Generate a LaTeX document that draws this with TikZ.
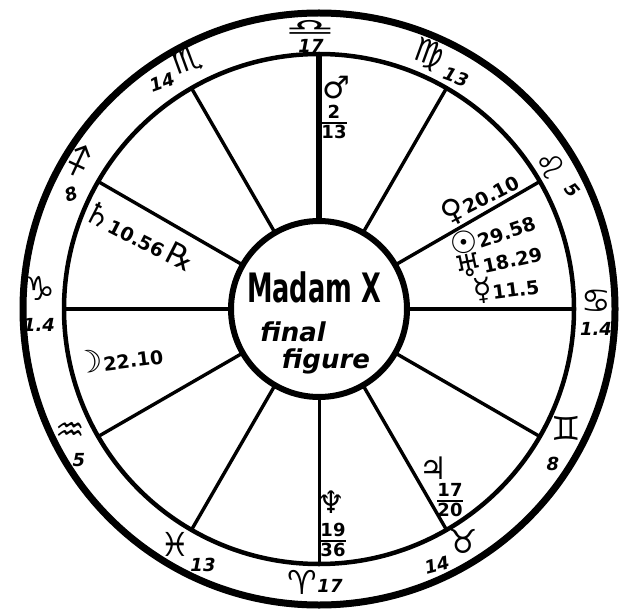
\documentclass[tikz,border=0pt]{standalone}
\usepackage{fontspec}
\setmainfont{DejaVu Sans}
\newcommand\frc[2]{{\renewcommand\arraystretch{0.8}\setlength\arrayrulewidth{1.8pt}\begin{tabular}{@{}c@{}}#1\\[-1pt]\hline\rule{0pt}{0.8em}#2\end{tabular}}}
\newcommand\sy[1]{{\fontsize{31}{31}\selectfont\mdseries\upshape #1}}
\begin{document}
\begin{tikzpicture}[x=1pt,y=-1pt,
  wheel/.style={circle,draw,inner sep=0pt,outer sep=0pt},
  spoke/.style={line width=3.4pt},
  sign/.style={font=\fontsize{33}{33}\selectfont,inner sep=0pt},
  deg/.style={font=\fontsize{18}{18}\selectfont\bfseries\itshape,inner sep=0pt},
  planet/.style={font=\fontsize{19}{19}\selectfont\bfseries,inner sep=0pt},
  frac/.style={font=\fontsize{18}{18}\selectfont\bfseries,inner sep=0pt},
  centre/.style={font=\fontsize{27}{27}\selectfont\bfseries,inner sep=0pt}]
\useasboundingbox (0,0) rectangle (623,612);
\fill[white] (0,0) rectangle (623,612);
\coordinate (c) at (319,309);
% circles
\node[wheel,line width=7pt,minimum size=592pt] (outer) at (c) {};
\node[wheel,line width=4.5pt,minimum size=510pt] (ring) at (c) {};
\node[wheel,line width=6pt,minimum size=176pt] (hub) at (c) {};
% spokes
\foreach \a in {30,60,120,150,210,240,300,330}
  \draw[spoke] (hub.\a) -- (ring.\a);
\draw[spoke,line width=4.2pt] (hub.0) -- (ring.0);
\draw[spoke,line width=4.2pt] (hub.180) -- (ring.180);
\draw[spoke,line width=5.5pt] (hub.90) -- (ring.90);
\draw[spoke,line width=3pt] (hub.270) -- (ring.270);
% signs on the ring
\node[sign] (s1) at (310,28) {\scalebox{1.7}[0.7]{♎}};
\node[deg]  (d1) at (311,46) {17};
\node[sign,rotate=20] (s2) at (187,61) {♏};
\node[deg,rotate=20]  (d2) at (162,82) {14};
\node[sign,rotate=-20] (s3) at (428,55) {♍};
\node[deg,rotate=-20]  (d3) at (456,77) {13};
\node[sign,rotate=-50] (s4) at (550,165) {♌};
\node[deg,rotate=-50]  (d4) at (572,190) {5};
\node[sign] (s5) at (596,301) {♋};
\node[deg]  (d5) at (596,329) {1.4};
\node[sign] (s6) at (566,428) {♊};
\node[deg]  (d6) at (553,464) {8};
\node[sign] (s7) at (463,541) {♉};
\node[deg,rotate=15]  (d7) at (437,565) {14};
\node[sign] (s8) at (302,582) {♈};
\node[deg]  (d8) at (330,586) {17};
\node[sign] (s9) at (175,544) {♓};
\node[deg]  (d9) at (203,565) {13};
\node[sign] (s10) at (70,432) {♒};
\node[deg]  (d10) at (79,460) {5};
\node[sign] (s11) at (40,288) {♑};
\node[deg]  (d11) at (39,325) {1.4};
\node[sign,rotate=20] (s12) at (79,161) {♐};
\node[deg,rotate=20]  (d12) at (71,194) {8};
% planets
\node[planet] (mars) at (336,88) {\sy{♂}};
\node[frac] (marsd) at (334,124) {\frc{2}{13}};
\node[planet,rotate=-27] (sat) at (140,236) {\sy{♄}10.56\,\sy{℞}};
\node[planet,rotate=7] (moon) at (119,358) {\sy{☽}22.10};
\node[planet,rotate=27] (ven) at (480,198) {\sy{♀}20.10};
\node[planet,rotate=19] (sun) at (492,233) {\sy{☉}29.58};
\node[planet,rotate=12] (ura) at (498,259) {\sy{♅}18.29};
\node[planet,rotate=7] (mer) at (506,288) {\sy{☿}11.5};
\node[planet] (jup) at (433,468) {\sy{♃}};
\node[frac] (jupd) at (450,502) {\frc{17}{20}};
\node[planet] (nep) at (331,502) {\sy{♆}};
\node[frac] (nepd) at (333,542) {\frc{19}{36}};
% centre
\node[centre] (t1) at (314,287) {\scalebox{0.95}[1.5]{Madam X}};
\node[centre,font=\fontsize{26}{26}\selectfont\bfseries\itshape] (t2) at (293,332) {final};
\node[centre,font=\fontsize{26}{26}\selectfont\bfseries\itshape] (t3) at (326,361) {figure};
\end{tikzpicture}
\end{document}
